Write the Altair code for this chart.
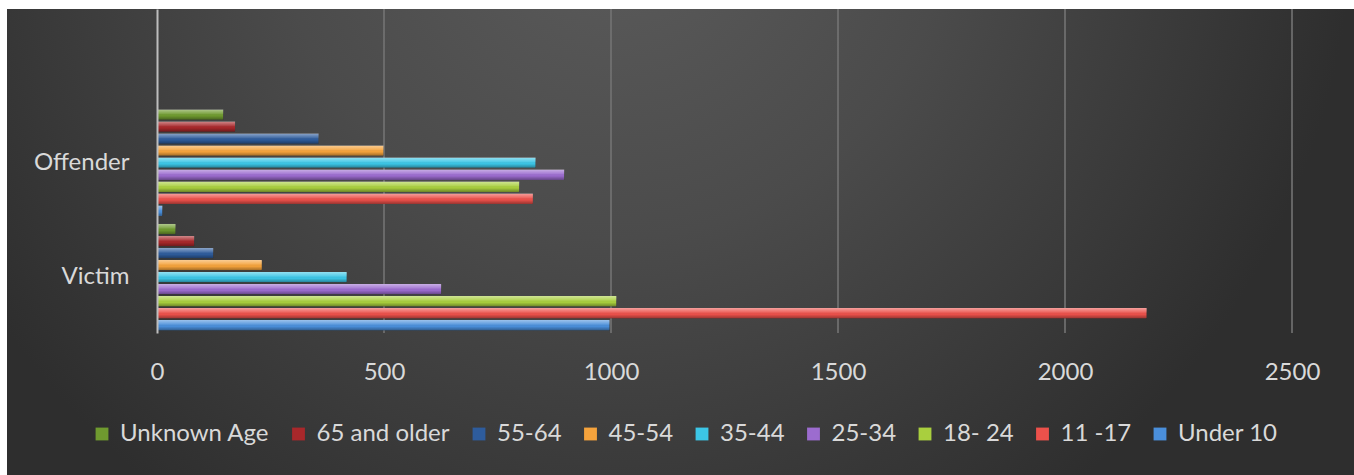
import altair as alt
import pandas as pd

# Age profile of offenders and victims
groups = ["Offender", "Victim"]
age_bands = ["Unknown Age", "65 and older", "55-64", "45-54", "35-44",
             "25-34", "18- 24", "11 -17", "Under 10"]
offender_counts = [146, 172, 356, 499, 834, 897, 798, 828, 12]
victim_counts = [41, 82, 124, 231, 418, 626, 1012, 2180, 997]
band_colors = ["#6f9a2f", "#a8282b", "#2e5c9c", "#f5a33c", "#3cc6e6",
               "#9c6ccf", "#a9cf3e", "#ec514b", "#4a8fdb"]
x_ticks = [0, 500, 1000, 1500, 2000, 2500]

rows = []
for role, counts in zip(groups, [offender_counts, victim_counts]):
    for age, n in zip(age_bands, counts):
        rows.append({"role": role, "age": age, "count": n})
df = pd.DataFrame(rows)
grid_df = pd.DataFrame({"tick": x_ticks[1:]})

W, H = 1135, 324
PAD = {"left": 157, "top": 9, "right": 62, "bottom": 142}
FONT = "Lato"
TEXT = "#d9d9d9"

x_scale = alt.Scale(domain=[0, 2500], nice=False, zero=True)
y_scale = alt.Scale(domain=groups, paddingInner=0.07, paddingOuter=0.45, align=0.975)
off_scale = alt.Scale(domain=age_bands, paddingInner=0.14)

x_axis = alt.Axis(values=x_ticks, format="d", grid=False, domain=False, ticks=False,
                  labelFont=FONT, labelFontSize=24, labelColor=TEXT,
                  labelPadding=27, labelFlush=False, title=None, zindex=1)
y_axis = alt.Axis(grid=False, domain=True, domainColor="#bdbdbd", domainWidth=2,
                  ticks=False, labelFont=FONT, labelFontSize=24, labelColor=TEXT,
                  labelPadding=28, title=None, zindex=1)

# dark backdrop with a soft radial light
backdrop = alt.Chart(pd.DataFrame({"k": [0]})).mark_rect(
    color=alt.RadialGradient(
        gradient="radial", x1=0.45, y1=0.25, r1=0, x2=0.45, y2=0.25, r2=0.55,
        stops=[alt.GradientStop(color="#5c5c5c", offset=0),
               alt.GradientStop(color="#4b4b4b", offset=0.45),
               alt.GradientStop(color="#2e2e2e", offset=1)])
).encode(x=alt.value(-PAD["left"] + 7), x2=alt.value(W + PAD["right"]),
         y=alt.value(0), y2=alt.value(H + PAD["bottom"]))

grid = alt.Chart(grid_df).mark_rule(color="#737373", strokeWidth=2, opacity=0.8).encode(
    x=alt.X("tick:Q", scale=x_scale, axis=x_axis),
    y=alt.value(0), y2=alt.value(H))

base = alt.Chart(df).encode(
    x=alt.X("count:Q", scale=x_scale, axis=x_axis),
    y=alt.Y("role:N", scale=y_scale, axis=y_axis, sort=groups),
    yOffset=alt.YOffset("age:N", scale=off_scale, sort=age_bands),
)

bars = base.mark_bar(cornerRadius=1).encode(
    color=alt.Color("age:N", sort=age_bands,
                    scale=alt.Scale(domain=age_bands, range=band_colors),
                    legend=alt.Legend(orient="none", direction="horizontal", columns=9,
                                      legendX=-67, legendY=413, title=None,
                                      symbolType="square", symbolSize=165,
                                      symbolStrokeWidth=0, labelFont=FONT,
                                      labelFontSize=24, labelColor=TEXT,
                                      labelOffset=6, columnPadding=16.5,
                                      labelLimit=400))
)

# glossy highlight for the bevelled look
shine = base.mark_bar(
    color=alt.LinearGradient(
        gradient="linear", x1=0, y1=0, x2=0, y2=1,
        stops=[alt.GradientStop(color="rgba(255,255,255,0.45)", offset=0),
               alt.GradientStop(color="rgba(255,255,255,0.12)", offset=0.4),
               alt.GradientStop(color="rgba(0,0,0,0)", offset=0.6),
               alt.GradientStop(color="rgba(0,0,0,0.35)", offset=1)])
)

chart = alt.layer(backdrop, grid, bars, shine).properties(
    width=W, height=H, background="white", padding=PAD,
    autosize=alt.AutoSizeParams(type="none"),
).configure_view(stroke=None)

chart.save("out.html", embed_options={"renderer": "svg", "actions": False})
